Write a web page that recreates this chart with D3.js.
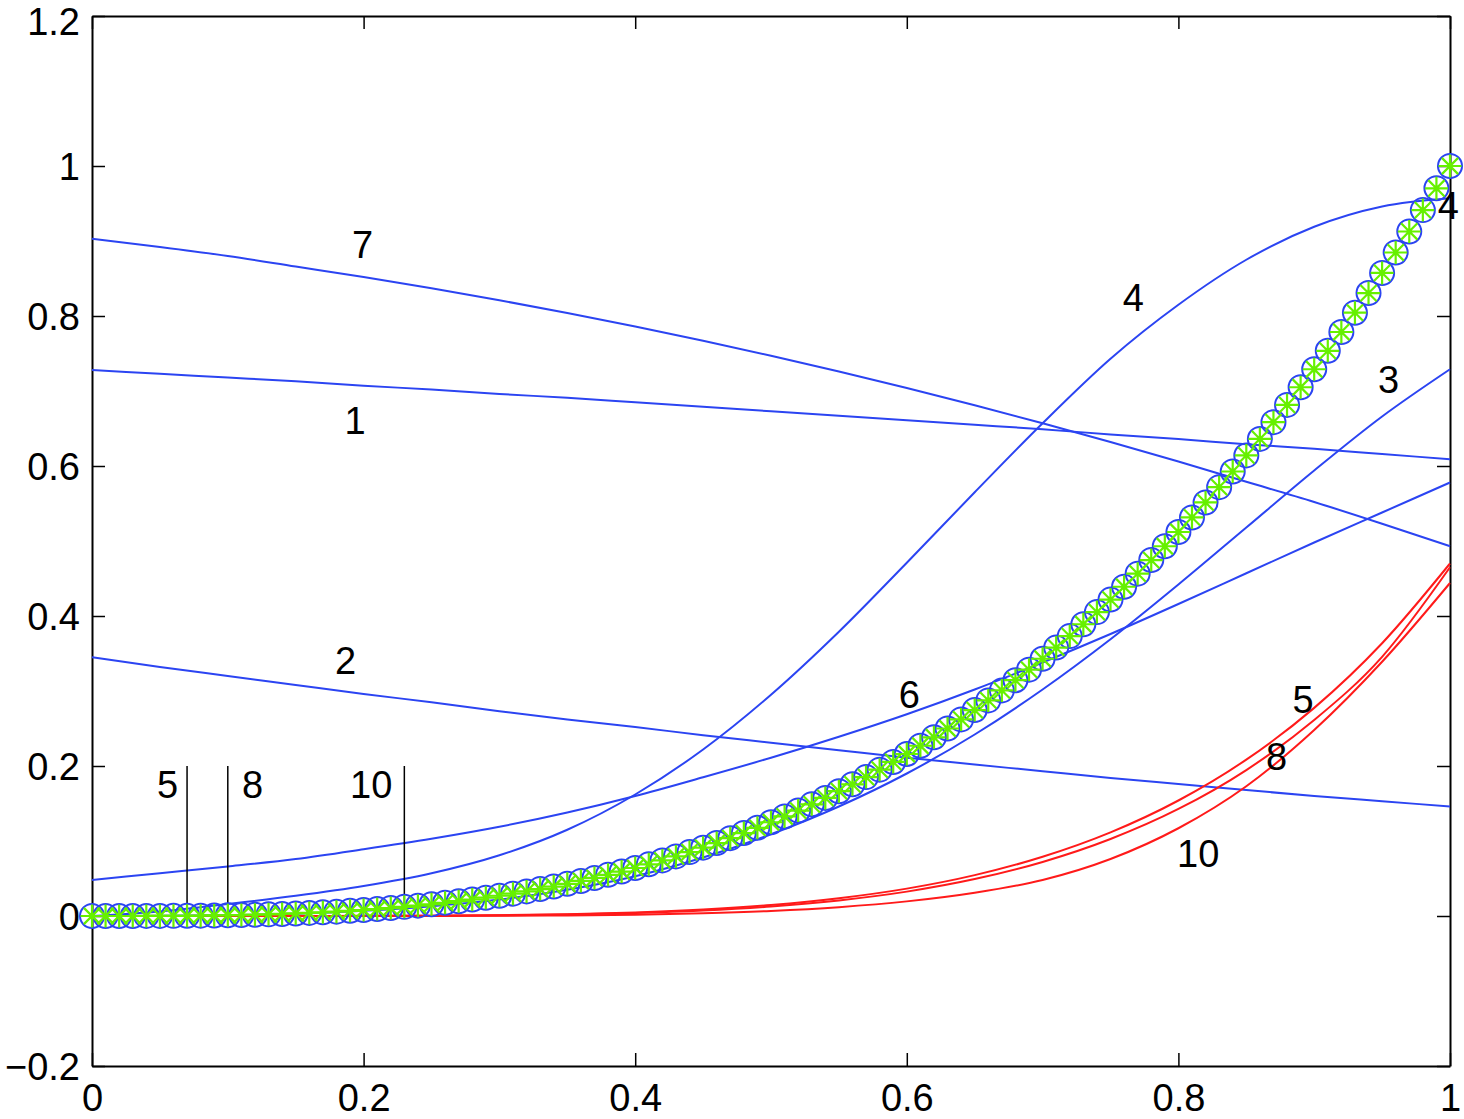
<!DOCTYPE html>
<html>
<head>
<meta charset="utf-8">
<script src="https://cdn.jsdelivr.net/npm/d3@7"></script>
<style>
  body { margin: 0; background: #fff; }
  svg { display: block; }
</style>
</head>
<body>
<div id="chart-area"></div>
<script>
// sample grid for the curves
var xGrid = [0, 0.05, 0.1, 0.15, 0.2, 0.25, 0.3, 0.35, 0.4, 0.45, 0.5,
             0.55, 0.6, 0.65, 0.7, 0.75, 0.8, 0.85, 0.9, 0.95, 1];

// blue curves
var curve1 = [0.728, 0.723, 0.718, 0.713, 0.707, 0.702, 0.696, 0.691, 0.685, 0.679, 0.673,
              0.667, 0.661, 0.655, 0.649, 0.642, 0.636, 0.629, 0.623, 0.616, 0.609];
var curve2 = [0.345, 0.332, 0.320, 0.308, 0.296, 0.285, 0.273, 0.262, 0.252, 0.241, 0.231,
              0.221, 0.211, 0.202, 0.193, 0.184, 0.176, 0.168, 0.160, 0.153, 0.146];
var curve3 = [0, 0.0002, 0.001, 0.003, 0.007, 0.013, 0.022, 0.035, 0.053, 0.078, 0.109,
              0.146, 0.190, 0.242, 0.302, 0.369, 0.442, 0.518, 0.594, 0.666, 0.729];
var curve4 = [0, 0.006, 0.016, 0.027, 0.040, 0.057, 0.081, 0.115, 0.162, 0.222, 0.295,
              0.379, 0.471, 0.565, 0.657, 0.743, 0.815, 0.875, 0.919, 0.946, 0.957];
var curve6 = [0.048, 0.057, 0.066, 0.076, 0.089, 0.103, 0.119, 0.138, 0.160, 0.185, 0.211,
              0.239, 0.269, 0.302, 0.338, 0.376, 0.416, 0.457, 0.498, 0.538, 0.578];
var curve7 = [0.903, 0.892, 0.880, 0.866, 0.852, 0.837, 0.821, 0.804, 0.786, 0.767, 0.747,
              0.726, 0.704, 0.681, 0.657, 0.632, 0.606, 0.579, 0.552, 0.523, 0.493];

// red curves
var curve5r = [0, 0, 0, 0, 0.0002, 0.0005, 0.0011, 0.0025, 0.0048, 0.0087, 0.0147,
               0.0237, 0.0365, 0.0545, 0.079, 0.1115, 0.154, 0.2085, 0.2775, 0.3637, 0.470];
var curve8r = [0, 0, 0, 0, 0.0001, 0.0004, 0.0009, 0.0019, 0.0039, 0.0073, 0.0127,
               0.0208, 0.0325, 0.0492, 0.0721, 0.1027, 0.1427, 0.1946, 0.2613, 0.3456, 0.465];
var curve10r = [0, 0, 0, 0, 0, 0.0001, 0.0003, 0.0008, 0.0018, 0.0037, 0.0068,
                0.0118, 0.0195, 0.031, 0.048, 0.076, 0.117, 0.173, 0.248, 0.339, 0.444];

// marker series, x = 0, 0.01, ... 1
var markerY = [0.0000, 0.0000, 0.0000, 0.0000, 0.0001, 0.0001, 0.0002, 0.0003, 0.0005, 0.0007,
               0.0010, 0.0013, 0.0017, 0.0022, 0.0027, 0.0034, 0.0041, 0.0049, 0.0058, 0.0069,
               0.0080, 0.0093, 0.0106, 0.0122, 0.0138, 0.0156, 0.0176, 0.0197, 0.0220, 0.0244,
               0.0270, 0.0298, 0.0328, 0.0359, 0.0393, 0.0429, 0.0467, 0.0507, 0.0549, 0.0593,
               0.0640, 0.0689, 0.0741, 0.0795, 0.0852, 0.0911, 0.0973, 0.1038, 0.1106, 0.1176,
               0.1250, 0.1327, 0.1406, 0.1489, 0.1575, 0.1664, 0.1756, 0.1852, 0.1951, 0.2054,
               0.2160, 0.2270, 0.2383, 0.2500, 0.2621, 0.2746, 0.2875, 0.3008, 0.3144, 0.3285,
               0.3430, 0.3579, 0.3732, 0.3890, 0.4052, 0.4219, 0.4390, 0.4565, 0.4746, 0.4930,
               0.5120, 0.5314, 0.5514, 0.5718, 0.5927, 0.6141, 0.6361, 0.6585, 0.6815, 0.7050,
               0.7290, 0.7536, 0.7787, 0.8044, 0.8306, 0.8574, 0.8847, 0.9127, 0.9412, 0.9703,
               1.0000];

// vertical marks near the origin
var vlineX = [0.07, 0.10, 0.23];
var vlineTop = 0.2;

// ticks
var xTicks = [0, 0.2, 0.4, 0.6, 0.8, 1];
var xTickLabels = ["0", "0.2", "0.4", "0.6", "0.8", "1"];
var yTicks = [-0.2, 0, 0.2, 0.4, 0.6, 0.8, 1, 1.2];
var yTickLabels = ["\u22120.2", "0", "0.2", "0.4", "0.6", "0.8", "1", "1.2"];

// text annotations (data coords, left aligned, vertically centred)
var noteText = ["7", "1", "2", "4", "4", "3", "6", "5", "8", "10", "5", "8", "10"];
var noteX = [0.1915, 0.186, 0.179, 0.759, 0.991, 0.947, 0.594, 0.884, 0.8645, 0.799, 0.0479, 0.1105, 0.19];
var noteY = [0.895, 0.661, 0.341, 0.825, 0.948, 0.716, 0.296, 0.289, 0.213, 0.083, 0.176, 0.176, 0.176];

var W = 1464, H = 1119;
var margin = {left: 92, right: 14, top: 16, bottom: 53};
var width = W - margin.left - margin.right;
var height = H - margin.top - margin.bottom;

var blue = "#2b44f2", red = "#ff1a1a", green = "#66f000";
var font = "'Liberation Sans', Arial, Helvetica, sans-serif";

var svg = d3.select("#chart-area").append("svg")
    .attr("width", W)
    .attr("height", H);
var g = svg.append("g")
    .attr("transform", "translate(" + margin.left + "," + margin.top + ")");

var x = d3.scaleLinear().domain([0, 1]).range([0, width]);
var y = d3.scaleLinear().domain([-0.2, 1.2]).range([height, 0]);

function styleAxis(sel) {
    sel.select(".domain").attr("stroke", "#000").attr("stroke-width", 2);
    sel.selectAll(".tick line").attr("stroke", "#000").attr("stroke-width", 1.5);
    sel.selectAll("text")
        .attr("font-family", font)
        .attr("font-size", "38px")
        .attr("fill", "#000");
}

g.append("g")
    .attr("transform", "translate(0," + height + ")")
    .call(d3.axisBottom(x).tickValues(xTicks).tickSizeInner(-13).tickSizeOuter(0)
        .tickPadding(18).tickFormat((d, i) => xTickLabels[i]))
    .call(styleAxis);
g.append("g")
    .call(d3.axisTop(x).tickValues(xTicks).tickSizeInner(-13).tickSizeOuter(0).tickFormat(""))
    .call(styleAxis);
g.append("g")
    .call(d3.axisLeft(y).tickValues(yTicks).tickSizeInner(-13).tickSizeOuter(0)
        .tickPadding(12).tickFormat((d, i) => yTickLabels[i]))
    .call(styleAxis)
    .selectAll("text")
        // top label sits against the page edge, nudge it so it stays whole
        .attr("dy", (d, i) => i === yTicks.length - 1 ? "0.49em" : "0.36em");
g.append("g")
    .attr("transform", "translate(" + width + ",0)")
    .call(d3.axisRight(y).tickValues(yTicks).tickSizeInner(-13).tickSizeOuter(0).tickFormat(""))
    .call(styleAxis);

var line = d3.line()
    .x((d, i) => x(xGrid[i]))
    .y(d => y(d))
    .curve(d3.curveMonotoneX);

var blueCurves = [curve1, curve2, curve3, curve4, curve6, curve7];
var redCurves = [curve5r, curve8r, curve10r];

g.selectAll(".blue-curve")
    .data(blueCurves)
    .enter().append("path")
    .attr("class", "blue-curve")
    .attr("d", line)
    .attr("fill", "none")
    .attr("stroke", blue)
    .attr("stroke-width", 2);

g.selectAll(".red-curve")
    .data(redCurves)
    .enter().append("path")
    .attr("class", "red-curve")
    .attr("d", line)
    .attr("fill", "none")
    .attr("stroke", red)
    .attr("stroke-width", 2);

g.selectAll(".vline")
    .data(vlineX)
    .enter().append("line")
    .attr("class", "vline")
    .attr("x1", d => x(d)).attr("x2", d => x(d))
    .attr("y1", y(0)).attr("y2", y(vlineTop))
    .attr("stroke", "#000")
    .attr("stroke-width", 1.5);

var markers = markerY.map((v, i) => ({x: i / 100, y: v}));

g.selectAll(".ring")
    .data(markers)
    .enter().append("circle")
    .attr("class", "ring")
    .attr("cx", d => x(d.x))
    .attr("cy", d => y(d.y))
    .attr("r", 12)
    .attr("fill", "none")
    .attr("stroke", blue)
    .attr("stroke-width", 2);

var r = 11.5, k = r * Math.SQRT1_2;
var star = "M" + (-r) + ",0H" + r + "M0," + (-r) + "V" + r +
           "M" + (-k) + "," + (-k) + "L" + k + "," + k +
           "M" + (-k) + "," + k + "L" + k + "," + (-k);

g.selectAll(".star")
    .data(markers)
    .enter().append("path")
    .attr("class", "star")
    .attr("transform", d => "translate(" + x(d.x) + "," + y(d.y) + ")")
    .attr("d", star)
    .attr("fill", "none")
    .attr("stroke", green)
    .attr("stroke-width", 2.2);

g.selectAll(".note")
    .data(noteText)
    .enter().append("text")
    .attr("class", "note")
    .attr("x", (d, i) => x(noteX[i]))
    .attr("y", (d, i) => y(noteY[i]))
    .attr("dy", "0.36em")
    .attr("font-family", font)
    .attr("font-size", "38px")
    .attr("fill", "#000")
    .text(d => d);
</script>
</body>
</html>
